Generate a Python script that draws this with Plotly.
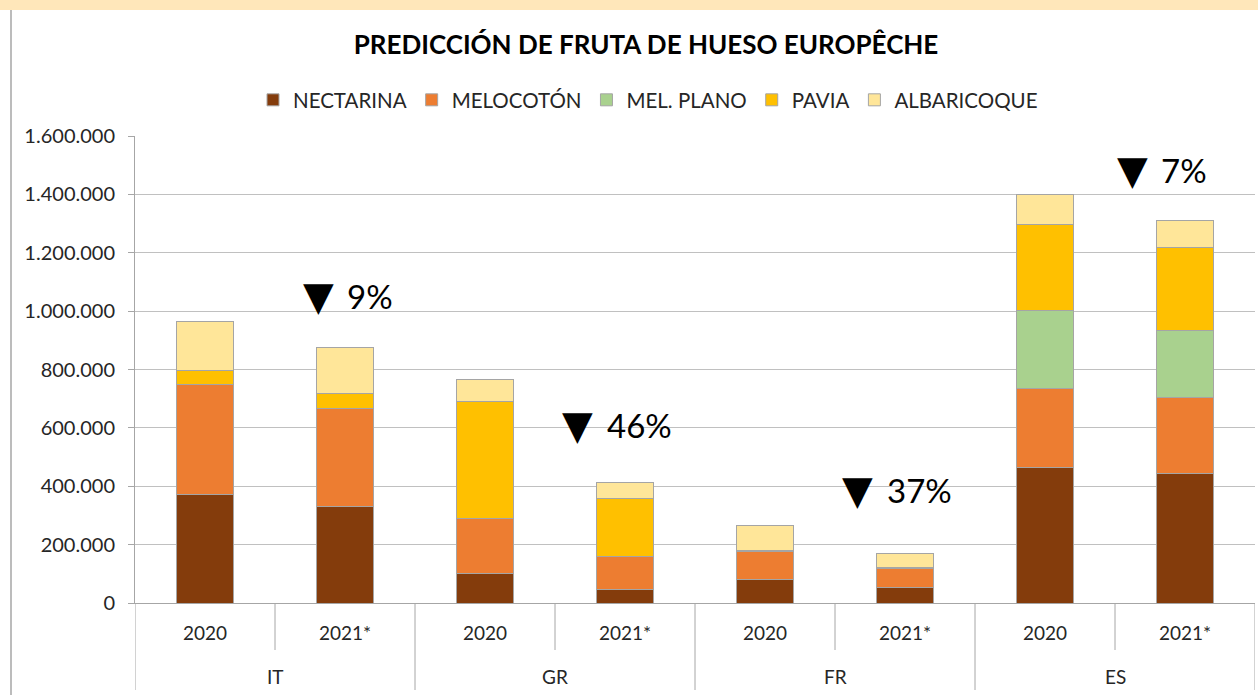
import plotly.graph_objects as go

countries = ["IT", "GR", "FR", "ES"]
years = ["2020", "2021*", "2020", "2021*", "2020", "2021*", "2020", "2021*"]

nectarina = [373000, 329000, 102000, 46000, 80000, 54000, 465000, 442000]
melocoton = [377000, 339000, 187000, 114000, 96000, 64000, 270000, 263000]
mel_plano = [0, 0, 0, 0, 0, 0, 266000, 228000]
pavia = [45000, 51000, 400000, 197000, 4000, 3000, 295000, 285000]
albaricoque = [168000, 158000, 77000, 57000, 86000, 47000, 104000, 91000]

series_names = ["NECTARINA", "MELOCOTÓN", "MEL. PLANO", "PAVIA", "ALBARICOQUE"]
series_values = [nectarina, melocoton, mel_plano, pavia, albaricoque]
series_colors = ["#843C0C", "#ED7D31", "#A9D18E", "#FFC000", "#FFE699"]

change_labels = ["9%", "46%", "37%", "7%"]
# annotation anchor positions (paper x of triangle centre, data y)
change_x = [0.1634, 0.3955, 0.6455, 0.8902]
change_y = [1053000, 610000, 388000, 1485000]

FONT = "Lato"
GRID = "#C0C0C0"
AXIS = "#A6A6A6"

L, R, T, B = 135, 3, 136, 92
W, H = 1258, 695
plot_h = H - T - B
plot_w = W - L - R


def py(pix):
    """pixel row (from top) -> paper y"""
    return (T + plot_h - pix) / plot_h


def px(pix):
    """pixel column (from left) -> paper x"""
    return (pix - L) / plot_w


xpos = list(range(len(years)))
n_per_group = len(years) // len(countries)

fig = go.Figure()
for name, vals, col in zip(series_names, series_values, series_colors):
    fig.add_trace(go.Bar(
        x=xpos, y=vals, name=name,
        marker=dict(color=col, line=dict(color="#A5A5A5", width=1)),
    ))

for lab, xp, yv in zip(change_labels, change_x, change_y):
    fig.add_annotation(x=xp, y=yv, xref="paper", yref="y", text="▼",
                       showarrow=False, xanchor="center", yanchor="middle",
                       font=dict(family="DejaVu Sans", size=40, color="black"))
    fig.add_annotation(x=xp, y=yv, xref="paper", yref="y", text=lab, xshift=27,
                       showarrow=False, xanchor="left", yanchor="middle",
                       font=dict(family=FONT, size=33, color="black"))

# category axis decoration: short ticks between years, long dividers between countries
for i in range(len(years) + 1):
    xb = i - 0.5
    depth = 87 if i % n_per_group == 0 else 47
    fig.add_shape(type="line", xref="x", yref="paper", x0=xb, x1=xb,
                  y0=0, y1=-depth / plot_h, line=dict(color=AXIS, width=1))
for g, c in enumerate(countries):
    fig.add_annotation(x=g * n_per_group + (n_per_group - 1) / 2, y=py(676),
                       xref="x", yref="paper", text=c, showarrow=False,
                       xanchor="center", yanchor="middle",
                       font=dict(family=FONT, size=19, color="#262626"))

# top decorative band and left frame line
fig.add_shape(type="rect", xref="paper", yref="paper", x0=px(-20), x1=px(W + 20),
              y0=py(10), y1=py(-5),
              fillcolor="#FFE7BA", line=dict(width=0), layer="below")
fig.add_shape(type="line", xref="paper", yref="paper", x0=px(11), x1=px(11),
              y0=py(H + 10), y1=py(10),
              line=dict(color=AXIS, width=1.5))

fig.update_layout(
    barmode="stack",
    bargap=0.59,
    width=W, height=H,
    margin=dict(l=L, r=R, t=T, b=B, autoexpand=False),
    paper_bgcolor="white", plot_bgcolor="white",
    separators=",.",
    font=dict(family=FONT, size=19, color="#262626"),
    title=dict(text="<b>PREDICCIÓN DE FRUTA DE HUESO EUROPÊCHE</b>",
               x=646 / W, xanchor="center", y=1 - 45 / H, yanchor="middle",
               font=dict(family=FONT, size=26, color="black")),
    legend=dict(orientation="h", x=px(648), xanchor="center",
                y=py(100), yanchor="middle",
                font=dict(family=FONT, size=20.5, color="#262626"),
                traceorder="normal", itemwidth=30),
    showlegend=True,
)
fig.update_yaxes(range=[0, 1600000], dtick=200000, tickformat=",d",
                 showgrid=True, gridcolor=GRID, gridwidth=1,
                 showline=True, linecolor=AXIS, linewidth=1,
                 ticks="outside", ticklen=6, tickcolor=AXIS,
                 ticklabelstandoff=9, automargin=False,
                 zeroline=False, tickfont=dict(size=20, color="#262626"))
fig.update_xaxes(range=[-0.5, len(years) - 0.5], tickvals=xpos, ticktext=years,
                 showline=True, linecolor=AXIS, showgrid=False, zeroline=False,
                 ticks="outside", ticklen=13, tickcolor="rgba(0,0,0,0)",
                 automargin=False, tickfont=dict(size=19, color="#262626"))

fig.write_html("out.html", config={"displayModeBar": False},
               post_script="document.body.style.margin='0px';document.body.style.overflow='hidden';")
